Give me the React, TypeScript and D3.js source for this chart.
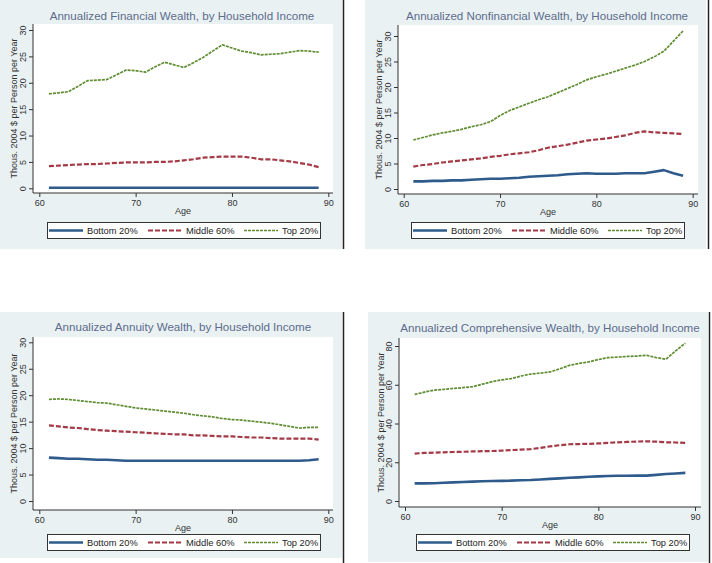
import { useEffect, useRef } from "react";
import * as d3 from "d3";

// Ages 61..89, one value per year
const ages = d3.range(61, 90);

const seriesNames = ["Bottom 20%", "Middle 60%", "Top 20%"];

const financialBottom = [
  0.1, 0.1, 0.1, 0.1, 0.1, 0.1, 0.1, 0.1, 0.1, 0.1, 0.1, 0.1, 0.1, 0.1, 0.1,
  0.1, 0.1, 0.1, 0.1, 0.1, 0.1, 0.1, 0.1, 0.1, 0.1, 0.1, 0.1, 0.1, 0.1,
];
const financialMiddle = [
  4.2, 4.3, 4.4, 4.5, 4.6, 4.6, 4.7, 4.8, 4.9, 4.9, 4.9, 5.0, 5.0, 5.1, 5.3,
  5.5, 5.8, 5.9, 6.0, 6.0, 6.0, 5.8, 5.5, 5.5, 5.3, 5.1, 4.8, 4.5, 4.0,
];
const financialTop = [
  17.9, 18.1, 18.3, 19.3, 20.4, 20.5, 20.6, 21.5, 22.4, 22.3, 22.0, 23.0, 23.9,
  23.4, 22.9, 23.8, 24.8, 26.0, 27.2, 26.6, 26.0, 25.7, 25.3, 25.4, 25.5, 25.8,
  26.1, 26.0, 25.8,
];

const nonfinBottom = [
  1.5, 1.5, 1.6, 1.6, 1.7, 1.7, 1.8, 1.9, 2.0, 2.0, 2.1, 2.2, 2.4, 2.5, 2.6,
  2.7, 2.9, 3.0, 3.1, 3.0, 3.0, 3.0, 3.1, 3.1, 3.1, 3.4, 3.7, 3.1, 2.6,
];
const nonfinMiddle = [
  4.4, 4.7, 4.9, 5.2, 5.4, 5.6, 5.8, 6.0, 6.3, 6.5, 6.8, 7.0, 7.2, 7.6, 8.1,
  8.4, 8.7, 9.1, 9.5, 9.7, 9.9, 10.2, 10.5, 11.0, 11.3, 11.1, 11.0, 10.9, 10.8,
];
const nonfinTop = [
  9.6, 10.1, 10.6, 11.0, 11.3, 11.7, 12.2, 12.6, 13.2, 14.4, 15.4, 16.1, 16.8,
  17.5, 18.1, 18.9, 19.7, 20.5, 21.4, 22.0, 22.5, 23.1, 23.7, 24.3, 25.0, 25.9,
  27.0, 29.0, 31.0,
];

const annuityBottom = [
  8.2, 8.1, 8.0, 8.0, 7.9, 7.8, 7.8, 7.7, 7.6, 7.6, 7.6, 7.6, 7.6, 7.6, 7.6,
  7.6, 7.6, 7.6, 7.6, 7.6, 7.6, 7.6, 7.6, 7.6, 7.6, 7.6, 7.6, 7.7, 7.9,
];
const annuityMiddle = [
  14.3, 14.1, 13.9, 13.8, 13.6, 13.4, 13.3, 13.2, 13.1, 13.0, 12.9, 12.8, 12.7,
  12.6, 12.6, 12.4, 12.4, 12.3, 12.2, 12.2, 12.1, 12.0, 12.0, 11.9, 11.8, 11.8,
  11.8, 11.8, 11.6,
];
const annuityTop = [
  19.2, 19.3, 19.2, 19.0, 18.8, 18.6, 18.5, 18.2, 17.9, 17.6, 17.4, 17.2, 17.0,
  16.8, 16.6, 16.3, 16.1, 15.9, 15.6, 15.4, 15.3, 15.1, 14.9, 14.7, 14.4, 14.1,
  13.8, 13.9, 13.9,
];

const comprehensiveBottom = [
  9.1, 9.1, 9.2, 9.4, 9.6, 9.8, 10.0, 10.2, 10.3, 10.4, 10.5, 10.7, 10.8, 11.1,
  11.4, 11.7, 12.0, 12.2, 12.5, 12.7, 12.9, 13.0, 13.0, 13.1, 13.1, 13.5, 13.9,
  14.2, 14.5,
];
const comprehensiveMiddle = [
  24.5, 24.8, 25.0, 25.1, 25.3, 25.4, 25.6, 25.7, 25.8, 26.0, 26.3, 26.5, 26.8,
  27.4, 28.2, 28.8, 29.3, 29.4, 29.5, 29.7, 30.0, 30.3, 30.5, 30.7, 30.8, 30.6,
  30.3, 30.2, 30.0,
];
const comprehensiveTop = [
  55.0, 56.2, 57.2, 57.6, 58.1, 58.5, 59.0, 60.3, 61.6, 62.5, 63.2, 64.5, 65.5,
  66.0, 66.6, 68.2, 70.0, 71.0, 71.8, 73.0, 74.0, 74.3, 74.6, 74.8, 75.2, 74.0,
  73.2, 77.5, 81.5,
];

const xTicks = [60, 70, 80, 90];
const yTicks30 = [0, 5, 10, 15, 20, 25, 30];
const yTicks80 = [0, 20, 40, 60, 80];

const titles = [
  "Annualized Financial Wealth, by Household Income",
  "Annualized Nonfinancial Wealth, by Household Income",
  "Annualized Annuity Wealth, by Household Income",
  "Annualized Comprehensive Wealth, by Household Income",
];

const styles = [
  { color: "#2e5b8c", width: 2.6, dash: "" },
  { color: "#a33a45", width: 2.2, dash: "5,2" },
  { color: "#5e8c31", width: 1.7, dash: "3,1" },
];

interface PanelLayout {
  bg: [number, number, number, number]; // x, y, w, h
  plot: [number, number, number, number]; // left, top, right, bottom
  xPx: [number, number]; // pixel of 60 and 90
  yPx: [number, number]; // pixel of 0 and yMax tick
  yMax: number;
  yTicks: number[];
  titleX: number;
  titleY: number;
  yLabelX: number;
  legendX: number;
  legendY: number;
}

const layouts: PanelLayout[] = [
  {
    bg: [0, 0, 342, 249],
    plot: [33, 24, 333, 193],
    xPx: [39.3, 328.3],
    yPx: [188.3, 30],
    yMax: 30,
    yTicks: yTicks30,
    titleX: 182,
    titleY: 20,
    yLabelX: 17,
    legendX: 47,
    legendY: 222,
  },
  {
    bg: [365, 0, 341, 249],
    plot: [398, 25, 698, 194],
    xPx: [403.7, 692.7],
    yPx: [189, 36],
    yMax: 30,
    yTicks: yTicks30,
    titleX: 547,
    titleY: 20,
    yLabelX: 382,
    legendX: 411,
    legendY: 222,
  },
  {
    bg: [0, 312, 342, 246],
    plot: [33, 337, 333, 510],
    xPx: [39.3, 328.3],
    yPx: [501, 342.3],
    yMax: 30,
    yTicks: yTicks30,
    titleX: 183,
    titleY: 331,
    yLabelX: 17,
    legendX: 47,
    legendY: 534,
  },
  {
    bg: [368, 312, 340, 250],
    plot: [399, 338, 701, 507],
    xPx: [405, 695],
    yPx: [501, 346],
    yMax: 80,
    yTicks: yTicks80,
    titleX: 550,
    titleY: 332,
    yLabelX: 384,
    legendX: 416,
    legendY: 534,
  },
];

const panelData = [
  [financialBottom, financialMiddle, financialTop],
  [nonfinBottom, nonfinMiddle, nonfinTop],
  [annuityBottom, annuityMiddle, annuityTop],
  [comprehensiveBottom, comprehensiveMiddle, comprehensiveTop],
];

const FONT = "'Liberation Sans', Arial, sans-serif";

export default function App() {
  const svgRef = useRef<SVGSVGElement>(null);

  useEffect(() => {
    if (!svgRef.current) return;
    const svg = d3.select(svgRef.current);
    svg.selectAll("*").remove();

    svg.append("rect").attr("width", 712).attr("height", 563).attr("fill", "#ffffff");

    layouts.forEach((L, pi) => {
      const g = svg.append("g");
      const [bx, by, bw, bh] = L.bg;
      const [pl, pt, pr, pb] = L.plot;

      // panel background
      g.append("rect")
        .attr("x", bx)
        .attr("y", by)
        .attr("width", bw)
        .attr("height", bh)
        .attr("fill", "#e9f1f3");

      // plot area
      g.append("rect")
        .attr("x", pl)
        .attr("y", pt)
        .attr("width", pr - pl)
        .attr("height", pb - pt)
        .attr("fill", "#ffffff");

      const x = d3.scaleLinear().domain([60, 90]).range(L.xPx);
      const y = d3.scaleLinear().domain([0, L.yMax]).range(L.yPx);

      // title
      g.append("text")
        .attr("x", L.titleX)
        .attr("y", L.titleY)
        .attr("text-anchor", "middle")
        .attr("font-family", FONT)
        .attr("font-size", 11.6)
        .attr("fill", "#5d6c8c")
        .text(titles[pi]);

      // x axis
      const xAxis = g
        .append("g")
        .attr("transform", `translate(0,${pb})`)
        .call(d3.axisBottom(x).tickValues(xTicks).tickSize(4).tickSizeOuter(0))
        .call((s) =>
          s.select(".domain").attr("d", `M${pl},0H${pr}`).attr("stroke", "#333"),
        )
        .call((s) => s.selectAll(".tick line").attr("stroke", "#333"))
        .call((s) =>
          s
            .selectAll(".tick text")
            .attr("font-family", FONT)
            .attr("font-size", 9)
            .attr("fill", "#333"),
        );
      xAxis
        .append("text")
        .attr("x", (pl + pr) / 2)
        .attr("y", 20.5)
        .attr("text-anchor", "middle")
        .attr("font-family", FONT)
        .attr("font-size", 9)
        .attr("fill", "#333")
        .text("Age");

      // y axis
      g.append("g")
        .attr("transform", `translate(${pl},0)`)
        .call(d3.axisLeft(y).tickValues(L.yTicks).tickSize(4).tickSizeOuter(0))
        .call((s) =>
          s.select(".domain").attr("d", `M0,${pt}V${pb}`).attr("stroke", "#333"),
        )
        .call((s) => s.selectAll(".tick line").attr("stroke", "#333"))
        .call((s) =>
          s
            .selectAll(".tick text")
            .attr("font-family", FONT)
            .attr("font-size", 9)
            .attr("fill", "#333")
            .attr("x", null)
            .attr("dy", null)
            .attr("text-anchor", "middle")
            .attr("transform", "translate(-7.5,0) rotate(-90)"),
        );

      // y label
      g.append("text")
        .attr("transform", `translate(${L.yLabelX},${(pt + pb) / 2}) rotate(-90)`)
        .attr("text-anchor", "middle")
        .attr("font-family", FONT)
        .attr("font-size", 9)
        .attr("fill", "#333")
        .text("Thous. 2004 $ per Person per Year");

      // lines
      const line = d3
        .line<number>()
        .x((_, i) => x(ages[i]))
        .y((d) => y(d));

      panelData[pi].forEach((values, si) => {
        const st = styles[si];
        g.append("path")
          .datum(values)
          .attr("d", line)
          .attr("fill", "none")
          .attr("stroke", st.color)
          .attr("stroke-width", st.width)
          .attr("stroke-dasharray", st.dash || null)
          .attr("stroke-linejoin", "round");
      });

      // legend
      const lg = g.append("g").attr("transform", `translate(${L.legendX},${L.legendY})`);
      lg.append("rect")
        .attr("x", 0.5)
        .attr("y", 0.5)
        .attr("width", 273)
        .attr("height", 16)
        .attr("fill", "#ffffff")
        .attr("stroke", "#333")
        .attr("stroke-width", 1);
      const offsets = [2, 101, 197];
      seriesNames.forEach((name, si) => {
        const st = styles[si];
        lg.append("line")
          .attr("x1", offsets[si])
          .attr("x2", offsets[si] + 34)
          .attr("y1", 8.5)
          .attr("y2", 8.5)
          .attr("stroke", st.color)
          .attr("stroke-width", st.width)
          .attr("stroke-dasharray", st.dash || null);
        lg.append("text")
          .attr("x", offsets[si] + 38)
          .attr("y", 12)
          .attr("font-family", FONT)
          .attr("font-size", 9.3)
          .attr("fill", "#222")
          .text(name);
      });
    });

    // black separator strokes
    const seps: [number, number, number][] = [
      [343.5, 0, 249],
      [343.5, 312, 563],
      [708.5, 0, 249],
      [709.5, 312, 563],
    ];
    svg
      .append("g")
      .selectAll("line")
      .data(seps)
      .join("line")
      .attr("x1", (d) => d[0])
      .attr("x2", (d) => d[0])
      .attr("y1", (d) => d[1])
      .attr("y2", (d) => d[2])
      .attr("stroke", "#222")
      .attr("stroke-width", 1.5);
  }, []);

  return (
    <svg
      ref={svgRef}
      width={712}
      height={563}
      style={{ position: "absolute", left: 0, top: 0 }}
    />
  );
}
